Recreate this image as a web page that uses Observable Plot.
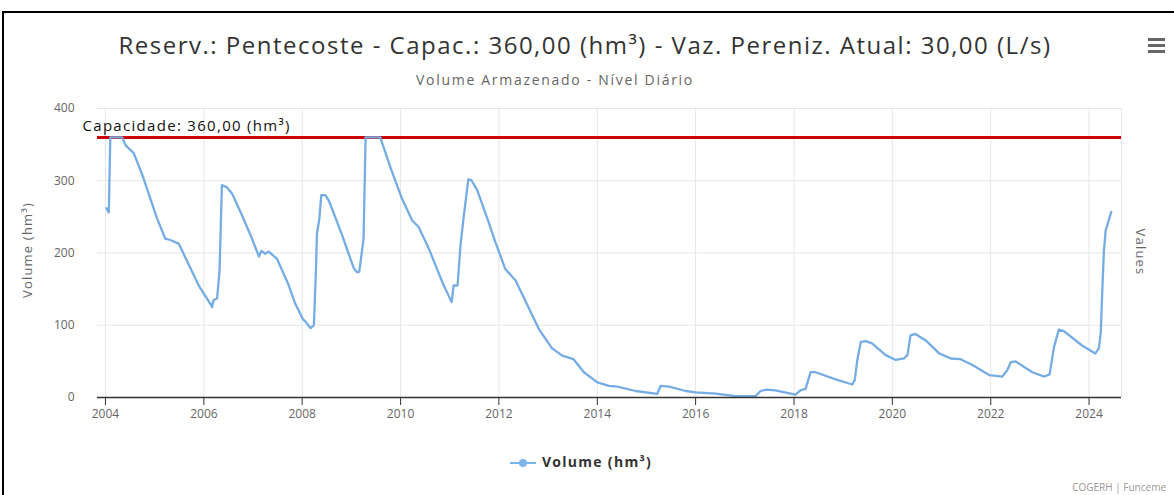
<!DOCTYPE html>
<html><head><meta charset="utf-8">
<script src="https://cdn.jsdelivr.net/npm/d3@7"></script>
<script src="https://cdn.jsdelivr.net/npm/@observablehq/plot@0.6"></script>
<style>
body{margin:0;background:#fff;font-family:"Open Sans",sans-serif;}
#wrap{position:relative;width:1174px;height:495px;overflow:hidden;background:#fff;}
#frame{position:absolute;left:2px;top:11px;width:1300px;height:600px;border-top:2px solid #000;border-left:2px solid #000;box-sizing:border-box;}
#title{position:absolute;left:0;width:1170px;top:28px;text-align:center;font-size:24px;letter-spacing:1.5px;color:#333;white-space:nowrap;}
#subtitle{position:absolute;left:0;width:1110px;top:70px;text-align:center;font-size:14px;letter-spacing:1.7px;color:#666;white-space:nowrap;}
#menu{position:absolute;left:1148px;top:38px;width:17px;}
#menu div{height:3px;background:#666;margin-bottom:3px;}
#chart{position:absolute;left:0;top:90px;}
.ytitle{position:absolute;font-size:13px;letter-spacing:1.2px;color:#666;white-space:nowrap;}
#ylab{left:27px;top:250px;transform:translate(-50%,-50%) rotate(-90deg);}
#ylab2{left:1141px;top:252px;transform:translate(-50%,-50%) rotate(90deg);}
#legend{position:absolute;left:0;width:1162px;top:452px;text-align:center;font-size:14px;letter-spacing:1.3px;font-weight:bold;color:#333;}
#legend svg{vertical-align:middle;margin-right:6px;}
#credits{position:absolute;right:8px;top:480px;font-size:10px;color:#999;}
</style></head>
<body>
<div id="wrap">
  <div id="frame"></div>
  <div id="title">Reserv.: Pentecoste - Capac.: 360,00 (hm³) - Vaz. Pereniz. Atual: 30,00 (L/s)</div>
  <div id="subtitle">Volume Armazenado - Nível Diário</div>
  <div id="menu"><div></div><div></div><div></div></div>
  <div id="chart"></div>
  <div class="ytitle" id="ylab">Volume (hm³)</div>
  <div class="ytitle" id="ylab2">Values</div>
  <div id="legend"><svg width="26" height="12"><line x1="0" y1="6" x2="26" y2="6" stroke="#7cb5ec" stroke-width="2"/><circle cx="13" cy="6" r="4" fill="#7cb5ec"/></svg>Volume (hm³)</div>
  <div id="credits">COGERH | Funceme</div>
</div>
<script>
const dates = ["2004-01-08","2004-01-26","2004-02-06","2004-05-04","2004-05-30","2004-07-30","2004-10-01","2005-01-18","2005-03-20","2005-04-26","2005-06-28","2005-11-24","2006-02-17","2006-03-03","2006-03-14","2006-04-09","2006-04-27","2006-05-15","2006-06-20","2006-07-30","2006-10-12","2006-12-24","2007-02-14","2007-03-04","2007-04-02","2007-04-27","2007-06-28","2007-09-24","2007-11-10","2008-01-08","2008-01-26","2008-03-03","2008-03-28","2008-04-12","2008-04-20","2008-05-08","2008-05-22","2008-06-20","2008-07-16","2008-10-23","2009-01-18","2009-02-14","2009-02-28","2009-04-01","2009-04-16","2009-08-03","2009-10-30","2010-01-12","2010-03-28","2010-05-15","2010-07-30","2010-11-06","2011-01-15","2011-01-30","2011-02-28","2011-03-22","2011-04-16","2011-05-19","2011-06-10","2011-07-24","2011-10-16","2011-12-06","2012-02-17","2012-05-04","2012-10-23","2013-01-30","2013-04-16","2013-07-08","2013-09-24","2014-01-01","2014-03-28","2014-05-30","2014-10-12","2015-03-22","2015-04-16","2015-06-18","2015-10-20","2016-01-01","2016-05-30","2016-10-23","2017-03-22","2017-04-27","2017-06-14","2017-08-15","2018-01-12","2018-02-17","2018-03-28","2018-04-16","2018-05-04","2018-06-10","2018-11-06","2019-03-10","2019-03-28","2019-04-16","2019-05-12","2019-06-18","2019-08-03","2019-11-10","2020-01-26","2020-03-28","2020-04-23","2020-05-15","2020-06-20","2020-09-05","2020-12-14","2021-03-10","2021-05-22","2021-08-18","2021-12-20","2022-03-28","2022-05-04","2022-05-30","2022-07-05","2022-11-06","2023-02-02","2023-03-14","2023-04-16","2023-05-22","2023-06-28","2023-11-10","2024-02-17","2024-03-14","2024-03-28","2024-04-09","2024-04-20","2024-05-04","2024-05-15","2024-06-14"];
const volumes = [262,256,360,360,349,338,308,248,220,218,213,155,130,125,135,137,174,294,291,282,252,220,195,203,199,202,192,155,130,108,105,96,100,174,227,248,280,280,273,225,179,173,174,220,360,360,312,275,245,236,206,160,132,155,155,211,252,302,301,287,243,215,178,162,95,68,58,53,35,21,16,15,9,5,16,15,9,7,5.5,2,2,9,11,10,4,10,12,24,35,35,25,18,24,52,77,78,75,59,52,54,59,86,88,79,61,54,53,45,31,29,38,49,50,35,29,32,70,94,92,72,61,68,90,151,202,232,238,257];
const capacity = [360];
const capacityLabel = "Capacidade: 360,00 (hm³)";
const xTickYears = [2004,2006,2008,2010,2012,2014,2016,2018,2020,2022,2024];
const yTicks = [0,100,200,300,400];
const xDomainDates = ["2003-11-03","2024-08-29"];

const data = dates.map((d,i)=>({date:new Date(d), volume:volumes[i]}));
const xDomain = xDomainDates.map(d=>new Date(d));
const xTicks = xTickYears.map(y=>new Date(Date.UTC(y,0,1)));

const plot = Plot.plot({
  width:1174, height:340,
  marginLeft:97, marginRight:53, marginTop:18, marginBottom:33,
  style:{fontFamily:"Open Sans, sans-serif", fontSize:"12px", overflow:"visible", background:"transparent"},
  x:{type:"utc", domain:xDomain},
  y:{domain:[0,400]},
  marks:[
    Plot.gridY(yTicks,{stroke:"#e6e6e6", strokeOpacity:1}),
    Plot.gridX(xTicks,{stroke:"#e6e6e6", strokeOpacity:1}),
    Plot.ruleX([xDomain[1]],{stroke:"#e6e6e6"}),
    Plot.ruleY(capacity,{stroke:"#cc0000", strokeWidth:3}),
    Plot.line(data,{x:"date", y:"volume", stroke:"#76ace4", strokeWidth:2.3}),
    Plot.text(capacity,{x:()=>xDomain[0], y:d=>d, text:()=>capacityLabel, textAnchor:"start", dx:-15, dy:-11, fontSize:15, fill:"#111", className:"caplabel"}),
    Plot.ruleY([0],{stroke:"#333", strokeWidth:1.6}),
    Plot.axisX(xTicks,{tickFormat:d3.utcFormat("%Y"), tickSize:8, tickPadding:4, stroke:"#333", fill:"#666", label:null, fontSize:12}),
    Plot.axisY(yTicks,{tickSize:0, tickPadding:23, fill:"#666", label:null, fontSize:12})
  ]
});
d3.select(plot).selectAll(".caplabel text").style("letter-spacing","1.3px");
document.getElementById("chart").appendChild(plot);
</script>
</body></html>
